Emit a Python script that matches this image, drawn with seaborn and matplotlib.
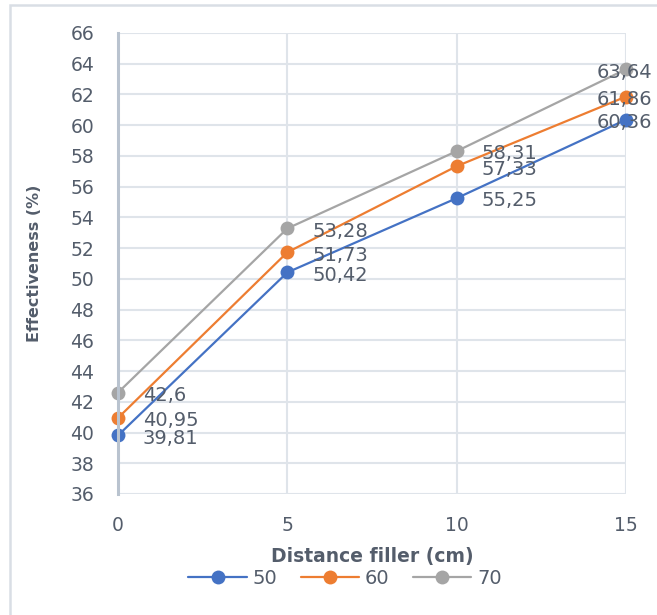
import matplotlib
matplotlib.use("Agg")
import matplotlib.pyplot as plt
import matplotlib.patches as mpatches
import seaborn as sns
import pandas as pd

distance = [0, 5, 10, 15]
series_names = ["50", "60", "70"]
eff_50 = [39.81, 50.42, 55.25, 60.36]
eff_60 = [40.95, 51.73, 57.33, 61.86]
eff_70 = [42.6, 53.28, 58.31, 63.64]
y_ticks = list(range(36, 67, 2))
x_ticks = [0, 5, 10, 15]

colors = ["#4472C4", "#ED7D31", "#A5A5A5"]
text_col = "#545d6b"

rows = []
for name, vals in zip(series_names, [eff_50, eff_60, eff_70]):
    for d, v in zip(distance, vals):
        rows.append({"distance": d, "eff": v, "series": name})
df = pd.DataFrame(rows)

sns.set_theme(style="white")
plt.rcParams["font.family"] = ["DejaVu Sans"]

fig = plt.figure(figsize=(6.57, 6.15), dpi=100)
ax = fig.add_axes([118/657, 1-494/615, (626-118)/657, (494-33)/615])

sns.lineplot(data=df, x="distance", y="eff", hue="series", palette=colors,
             marker="o", markersize=10, markeredgewidth=0, linewidth=1.6,
             ax=ax, legend=False, clip_on=False)
for ln in ax.lines:
    ln.set_clip_on(False)

ax.set_xlim(0, 15)
ax.set_ylim(36, 66)
ax.set_xticks(x_ticks)
ax.set_yticks(y_ticks)
ax.grid(True, color="#dfe4ea", linewidth=1.5)
ax.set_axisbelow(True)
for s in ["top", "right", "bottom"]:
    ax.spines[s].set_visible(False)
ax.spines["left"].set_color("#b9c3cf")
ax.spines["left"].set_linewidth(2.2)
ax.tick_params(axis="both", length=0, labelsize=13.5, colors=text_col)
ax.tick_params(axis="y", pad=17)
ax.tick_params(axis="x", pad=16)

ax.set_xlabel("Distance filler (cm)", fontsize=13.5, fontweight="bold", color=text_col)
ax.set_ylabel("Effectiveness (%)", fontsize=11.5, fontweight="bold", color=text_col)
ax.xaxis.set_label_coords(0.5, -0.115)
ax.yaxis.set_label_coords(-0.15, 0.5)

# data labels
for name, vals in zip(series_names, [eff_50, eff_60, eff_70]):
    for d, v in zip(distance, vals):
        lab = str(v).replace(".", ",")
        dx = 18 if d < 15 else -21
        ax.annotate(lab, (d, v), xytext=(dx, -2), textcoords="offset points",
                    ha="left", va="center", fontsize=14, color=text_col,
                    annotation_clip=False)

# legend
handles = [plt.Line2D([], [], color=c, marker="o", markersize=10,
                      markeredgewidth=0, linewidth=1.6) for c in colors]
leg = fig.legend(handles, series_names, loc="center", bbox_to_anchor=(345/657, 1-578/615),
                 ncol=3, frameon=False, fontsize=14, handlelength=3.0,
                 handletextpad=0.3, columnspacing=1.2, labelcolor=text_col)

# outer chart frame
fig.patches.append(mpatches.Rectangle((10/657, -0.1), 1.2, (615-5)/615 + 0.1,
                                      transform=fig.transFigure, fill=False,
                                      edgecolor="#d9dee5", linewidth=1.8))

fig.savefig("out.png", dpi=100)
